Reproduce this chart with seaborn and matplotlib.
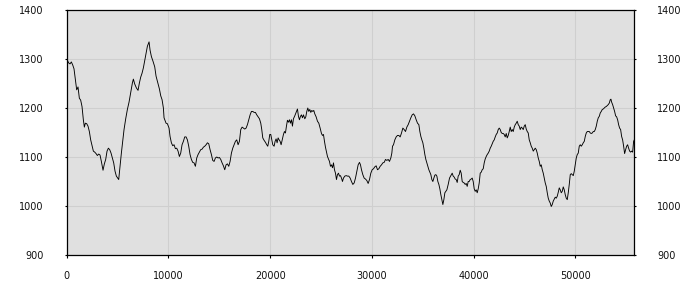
import matplotlib
matplotlib.use("Agg")
import matplotlib.pyplot as plt
import seaborn as sns
import pandas as pd

x_values = [
    0, 194, 325, 456, 587, 718, 850, 981, 1112, 1243, 1374, 1505, 1636, 1735, 1833, 1964,
    2095, 2226, 2357, 2489, 2620, 2751, 2882, 3013, 3144, 3275, 3406, 3570, 3701, 3833,
    3964, 4095, 4226, 4357, 4488, 4619, 4750, 4881, 5013, 5111, 5242, 5373, 5504, 5635,
    5799, 5963, 6127, 6291, 6455, 6553, 6684, 6848, 7012, 7143, 7274, 7405, 7536, 7667,
    7798, 7930, 8094, 8193, 8324, 8488, 8651, 8782, 8946, 9110, 9241, 9372, 9503,
    9567, 9764, 9895, 10059, 10157, 10289, 10420, 10551, 10682, 10813, 10944, 11075, 11206,
    11337, 11469, 11600, 11731, 11862, 11993, 12124, 12255, 12386, 12518, 12649, 12780,
    12911, 13042, 13173, 13304, 13435, 13567, 13698, 13829, 13960, 14091, 14222, 14353,
    14484, 14615, 14747, 14878, 15009, 15140, 15271, 15402, 15533, 15664, 15796, 15927,
    16058, 16189, 16320, 16451, 16582, 16713, 16845, 16976, 17107, 17238, 17369, 17500,
    17631, 17762, 17894, 18025, 18156, 18287, 18418, 18549, 18680, 18811, 18943,
    19073, 19171, 19270, 19401, 19532, 19663, 19761, 19860, 19958, 20056, 20155, 20253,
    20384, 20482, 20581, 20679, 20777, 20876, 20974, 21073, 21171, 21302, 21400, 21499,
    21597, 21695, 21794, 21892, 21990, 22089, 22187, 22285, 22416, 22548, 22679, 22777,
    22875, 22974, 23072, 23170, 23269, 23400, 23498, 23597, 23695, 23793, 23892, 23990,
    24088, 24187, 24285, 24383, 24514, 24646, 24777, 24908, 25039, 25137, 25236, 25334,
    25432, 25531, 25629, 25727, 25826, 25924, 26022, 26121, 26219, 26317, 26416, 26514,
    26612, 26711, 26809, 26907, 27006, 27104, 27202, 27333, 27465, 27596, 27727, 27858,
    27989, 28121, 28252, 28383,
    28513, 28644, 28775, 28874, 28972, 29103, 29234, 29365, 29496, 29627, 29759, 29890,
    30021, 30152, 30283, 30414, 30545, 30676, 30808, 30939, 31070, 31201, 31332, 31463,
    31594, 31725, 31856, 31955, 32021, 32119, 32250, 32381, 32512, 32643, 32774, 32905,
    33037, 33168, 33299, 33430, 33561, 33692, 33823, 33954, 34086, 34217, 34348, 34479,
    34610, 34708, 34807, 34905, 35003, 35102, 35200, 35298, 35397, 35495, 35593, 35692,
    35790, 35888, 35987, 36085, 36183, 36282, 36380, 36478, 36577, 36675, 36773, 36872,
    36970, 37068, 37167, 37265, 37363, 37494, 37625, 37756,
    37887, 37986, 38084, 38182, 38281, 38379, 38477, 38576, 38674, 38772, 38871, 38969,
    39067, 39166, 39264, 39362, 39461, 39559, 39657, 39756, 39854, 39952, 40051, 40149,
    40247, 40346, 40444, 40542, 40641, 40739, 40838, 40936, 41034, 41133, 41231, 41329,
    41428, 41526, 41624, 41723, 41821, 41919, 42018, 42116, 42214, 42313, 42411, 42509,
    42608, 42706, 42804, 42903, 43001, 43099, 43198, 43296, 43394, 43493, 43591, 43689,
    43788, 43886, 43984, 44083, 44181, 44279, 44378, 44476, 44574, 44673, 44771, 44869,
    44968, 45066, 45164, 45263, 45361, 45459, 45558, 45656, 45754, 45853, 45951, 46050,
    46148, 46246, 46345, 46443, 46541, 46640, 46738, 46836, 46935, 47033, 47131, 47230,
    47327, 47426, 47524, 47622, 47721, 47819, 47917, 48016, 48114, 48212, 48311, 48409,
    48507, 48606, 48704, 48802, 48901, 48999, 49097, 49196, 49294, 49392, 49491, 49589,
    49687, 49786, 49884, 49983, 50081, 50179, 50278, 50376, 50474, 50573, 50671, 50769,
    50868, 50966, 51064, 51163, 51261, 51359, 51458, 51556, 51654, 51753, 51851, 51949,
    52048, 52146, 52244, 52343, 52441, 52539, 52638, 52736, 52834, 52933, 53031, 53129,
    53228, 53326, 53424, 53490, 53556, 53654, 53752, 53851, 53949, 54047, 54146, 54244,
    54342, 54441, 54539, 54637, 54736, 54834, 54932, 55031, 55129, 55227, 55326, 55424,
    55522, 55621, 55719, 55785,
]

y_values = [
    1300, 1292, 1290, 1294, 1288, 1280, 1258, 1237, 1243, 1220, 1216, 1203, 1176, 1161, 1169, 1168,
    1163, 1152, 1135, 1123, 1112, 1110, 1107, 1103, 1106, 1104, 1091, 1073, 1086, 1095,
    1112, 1118, 1115, 1108, 1098, 1088, 1071, 1061, 1057, 1054, 1081, 1108, 1132, 1156,
    1178, 1197, 1212, 1231, 1251, 1259, 1249, 1241, 1236, 1251, 1263, 1271, 1282, 1297,
    1312, 1326, 1335, 1318, 1305, 1295, 1284, 1265, 1252, 1239, 1225, 1217, 1200,
    1180, 1169, 1168, 1159, 1142, 1129, 1123, 1125, 1117, 1118, 1112, 1101, 1108,
    1125, 1132, 1141, 1141, 1135, 1122, 1105, 1095, 1089, 1088, 1081, 1098,
    1105, 1110, 1115, 1116, 1120, 1122, 1125, 1129, 1127, 1115, 1105, 1093,
    1091, 1098, 1100, 1098, 1099, 1095, 1088, 1082, 1074, 1084, 1086, 1081,
    1091, 1108, 1118, 1125, 1132, 1135, 1125, 1132, 1156, 1161, 1159, 1157,
    1159, 1166, 1176, 1186, 1193, 1193, 1191, 1191, 1186, 1182, 1178,
    1169, 1156, 1139, 1134, 1130, 1125, 1122, 1132, 1146, 1146, 1135, 1125,
    1122, 1132, 1137, 1129, 1139, 1135, 1132, 1125, 1134, 1146, 1152, 1149,
    1163, 1175, 1171, 1176, 1169, 1176, 1163, 1178, 1184, 1191, 1198, 1183,
    1176, 1183, 1186, 1180, 1186, 1178, 1182, 1193, 1200, 1193, 1197, 1191,
    1195, 1193, 1195, 1188, 1182, 1173, 1169, 1159, 1148, 1144, 1146, 1132,
    1120, 1110, 1101, 1096, 1091, 1081, 1084, 1078, 1088, 1074, 1067, 1054,
    1064, 1067, 1061, 1062, 1057, 1050, 1057, 1061, 1062, 1061, 1061, 1057,
    1050, 1044, 1047, 1057,
    1071, 1084, 1089, 1084, 1074, 1064, 1057, 1055, 1052, 1046, 1054, 1067,
    1074, 1076, 1080, 1082, 1074, 1076, 1081, 1084, 1088, 1089, 1095, 1093,
    1095, 1091, 1098, 1108, 1122, 1125, 1135, 1141, 1144, 1144, 1141, 1149,
    1159, 1156, 1152, 1161, 1166, 1173, 1180, 1186, 1188, 1184, 1176, 1169,
    1166, 1152, 1142, 1135, 1129, 1118, 1105, 1095, 1088, 1081, 1074, 1069,
    1064, 1054, 1050, 1057, 1063, 1064, 1061, 1050, 1044, 1035, 1023, 1013,
    1003, 1013, 1027, 1030, 1033, 1044, 1057, 1062,
    1067, 1061, 1059, 1055, 1054, 1048, 1061, 1064, 1073, 1067, 1050, 1048,
    1047, 1044, 1046, 1040, 1050, 1050, 1054, 1055, 1057, 1050, 1035, 1030,
    1033, 1027, 1035, 1047, 1067, 1069, 1074, 1076, 1088, 1096, 1101, 1105,
    1108, 1112, 1118, 1122, 1127, 1132, 1135, 1141, 1146, 1149, 1156, 1159,
    1156, 1150, 1148, 1148, 1146, 1141, 1148, 1139, 1144, 1152, 1161, 1152,
    1156, 1152, 1161, 1166, 1169, 1173, 1166, 1163, 1156, 1161, 1159, 1156,
    1163, 1166, 1157, 1152, 1149, 1135, 1129, 1122, 1118, 1112, 1115, 1118,
    1115, 1108, 1098, 1091, 1081, 1084, 1074, 1067, 1057, 1047, 1040, 1027,
    1016, 1010, 1006, 999, 1003, 1010, 1014, 1018, 1016, 1020, 1028, 1037,
    1033, 1027, 1030, 1039, 1033, 1023, 1016, 1013, 1027, 1044, 1064, 1066,
    1064, 1062, 1071, 1084, 1098, 1105, 1108, 1122, 1125, 1122, 1125, 1129,
    1132, 1142, 1149, 1152, 1152, 1152, 1149, 1148, 1149, 1152, 1152, 1156,
    1163, 1173, 1180, 1183, 1190, 1193, 1197, 1198, 1200, 1202, 1203, 1205,
    1207, 1210, 1217, 1218, 1212, 1207, 1200, 1193, 1184, 1182, 1176, 1166,
    1159, 1156, 1142, 1135, 1122, 1107, 1115, 1122, 1125, 1118, 1112, 1110,
    1112, 1110, 1132, 1135,
]

x_ticks = [0, 10000, 20000, 30000, 40000, 50000]
y_ticks = [900, 1000, 1100, 1200, 1300, 1400]

df = pd.DataFrame({"x": x_values, "y": y_values})

sns.set_style("white")
plt.rcParams["font.family"] = ["DejaVu Sans"]

fig = plt.figure(figsize=(7, 3), dpi=100)
ax = fig.add_axes([66.7 / 700, 45 / 300, (634.3 - 66.7) / 700, 245 / 300])
ax.set_facecolor("#e0e0e0")

sns.lineplot(data=df, x="x", y="y", ax=ax, color="black", linewidth=0.65,
             estimator=None, sort=False)

ax.set_xlim(0, 55785)
ax.set_ylim(900, 1400)
ax.set_xticks(x_ticks)
ax.set_yticks(y_ticks)
ax.set_xticklabels([str(v) for v in x_ticks])
ax.set_yticklabels([str(v) for v in y_ticks])
ax.set_xlabel("")
ax.set_ylabel("")

ax.grid(True, color="#cfcfcf", linewidth=0.8)
ax.set_axisbelow(True)

for side in ["left", "right", "top", "bottom"]:
    ax.spines[side].set_visible(True)
    ax.spines[side].set_color("black")
    ax.spines[side].set_linewidth(0.9)

ax.tick_params(axis="x", direction="out", length=2.5, width=0.8, color="black",
               pad=9, labelsize=7, labelcolor="#111111", bottom=True)
ax.tick_params(axis="y", direction="out", length=1.5, width=0.8, color="black",
               labelsize=7, labelcolor="#111111", left=True, right=True,
               labelleft=True, labelright=True)
ax.tick_params(axis="y", which="major", pad=15)

fig.savefig("out.png", dpi=100)
